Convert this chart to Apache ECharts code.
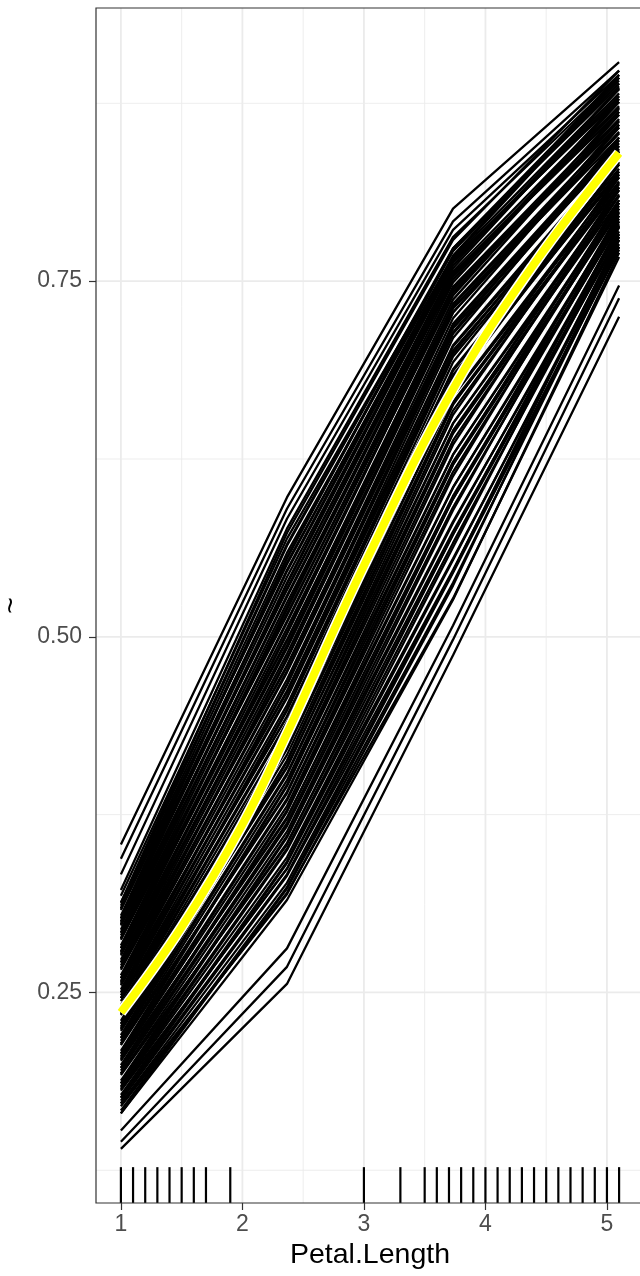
<!DOCTYPE html>
<html>
<head>
<meta charset="utf-8">
<script src="https://cdn.jsdelivr.net/npm/echarts@6/dist/echarts.min.js"></script>
<style>
html,body{margin:0;padding:0;background:#fff;}
#chart{width:640px;height:1276px;}
</style>
</head>
<body>
<div id="chart"></div>
<script>
// Grid points of Petal.Length where the ICE curves are evaluated
const gridX = [1, 2.366667, 3.733333, 5.1];
// ICE curve values at each grid point (one entry per curve)
const iceAt1 = [0.165,0.170,0.165,0.172,0.167,0.174,0.172,0.176,0.181,0.176,0.182,0.178,0.184,0.183,0.186,0.192,0.186,0.193,0.188,0.195,0.193,0.197,0.202,0.197,0.203,0.199,0.205,0.204,0.207,0.213,0.207,0.214,0.209,0.216,0.214,0.218,0.223,0.218,0.224,0.220,0.226,0.225,0.228,0.234,0.228,0.235,0.230,0.237,0.235,0.239,0.244,0.239,0.246,0.241,0.248,0.246,0.250,0.255,0.250,0.256,0.252,0.258,0.257,0.260,0.266,0.260,0.267,0.262,0.269,0.267,0.271,0.276,0.271,0.277,0.273,0.279,0.278,0.281,0.287,0.281,0.288,0.283,0.290,0.288,0.292,0.297,0.292,0.298,0.294,0.300,0.299,0.302,0.308,0.302,0.309,0.304,0.311,0.309,0.313,0.318,0.313,0.322,0.333,0.344,0.354,0.153,0.145,0.140];
const iceAt2 = [0.315,0.320,0.323,0.319,0.324,0.332,0.327,0.333,0.337,0.341,0.337,0.342,0.350,0.345,0.351,0.355,0.359,0.354,0.360,0.367,0.363,0.369,0.373,0.377,0.372,0.378,0.385,0.381,0.386,0.391,0.395,0.390,0.396,0.403,0.399,0.404,0.409,0.412,0.408,0.413,0.421,0.417,0.422,0.427,0.430,0.426,0.431,0.439,0.434,0.440,0.444,0.448,0.444,0.449,0.457,0.452,0.458,0.462,0.466,0.461,0.467,0.475,0.470,0.476,0.480,0.484,0.479,0.485,0.492,0.488,0.494,0.498,0.502,0.497,0.503,0.510,0.506,0.511,0.516,0.519,0.515,0.521,0.528,0.524,0.529,0.534,0.537,0.533,0.538,0.546,0.542,0.547,0.552,0.555,0.551,0.556,0.564,0.559,0.565,0.569,0.573,0.576,0.583,0.590,0.598,0.281,0.268,0.256];
const iceAt3 = [0.526,0.527,0.538,0.536,0.545,0.547,0.546,0.554,0.555,0.566,0.563,0.572,0.574,0.572,0.580,0.581,0.591,0.589,0.597,0.599,0.597,0.605,0.605,0.616,0.613,0.621,0.623,0.621,0.628,0.628,0.638,0.635,0.643,0.645,0.643,0.650,0.650,0.659,0.656,0.664,0.665,0.663,0.670,0.669,0.679,0.676,0.683,0.684,0.681,0.688,0.687,0.697,0.693,0.701,0.701,0.699,0.705,0.704,0.713,0.710,0.717,0.717,0.714,0.720,0.719,0.728,0.724,0.731,0.731,0.728,0.734,0.733,0.742,0.737,0.744,0.744,0.740,0.746,0.745,0.753,0.749,0.755,0.755,0.751,0.757,0.755,0.763,0.759,0.765,0.764,0.761,0.766,0.764,0.772,0.767,0.773,0.772,0.768,0.773,0.771,0.779,0.781,0.786,0.792,0.801,0.508,0.498,0.487];
const iceAt4 = [0.770,0.767,0.774,0.779,0.772,0.774,0.781,0.779,0.776,0.783,0.788,0.781,0.783,0.789,0.788,0.785,0.792,0.796,0.790,0.792,0.798,0.796,0.794,0.801,0.805,0.799,0.801,0.807,0.805,0.803,0.810,0.814,0.807,0.810,0.816,0.814,0.811,0.819,0.823,0.816,0.818,0.825,0.823,0.820,0.827,0.832,0.825,0.827,0.833,0.832,0.829,0.836,0.841,0.834,0.836,0.842,0.841,0.838,0.845,0.849,0.843,0.845,0.851,0.849,0.847,0.854,0.858,0.851,0.854,0.860,0.858,0.855,0.863,0.867,0.860,0.862,0.869,0.867,0.864,0.872,0.876,0.869,0.871,0.878,0.876,0.873,0.880,0.885,0.878,0.880,0.886,0.885,0.882,0.889,0.893,0.887,0.889,0.895,0.893,0.891,0.898,0.893,0.895,0.898,0.904,0.747,0.738,0.725];
// Average (yellow) curve
const pdpX = [1, 1.5, 2, 2.366667, 3, 3.733333, 4.4, 5.1];
const pdpY = [0.236, 0.296, 0.368, 0.432, 0.550, 0.674, 0.762, 0.840];
// Rug: observed Petal.Length values
const rugX = [1.0,1.1,1.2,1.3,1.4,1.5,1.6,1.7,1.9,3.0,3.3,3.5,3.6,3.7,3.8,3.9,4.0,4.1,4.2,4.3,4.4,4.5,4.6,4.7,4.8,4.9,5.0,5.1];
// Axis ticks and grid lines
const xTicks = [1, 2, 3, 4, 5];
const xMinorGrid = [1.5, 2.5, 3.5, 4.5];
const yTicks = [0.25, 0.50, 0.75];
const yMinorGrid = [0.125, 0.375, 0.625, 0.875];

const xMin = 0.795, xMax = 5.305, yMin = 0.102, yMax = 0.942;
const FONT = "'Liberation Sans', Arial, sans-serif";

const chart = echarts.init(document.getElementById('chart'), null, {renderer: 'canvas'});

const series = [];

// grid lines
const vGrid = xTicks.map(v => [v, yMin, 1]).concat(xMinorGrid.map(v => [v, yMin, 0]));
const hGrid = yTicks.map(v => [xMin, v, 1]).concat(yMinorGrid.map(v => [xMin, v, 0]));
series.push({
  type: 'custom', silent: true, z: 0, animation: false,
  data: vGrid,
  renderItem: function (params, api) {
    const x = api.value(0);
    const p1 = api.coord([x, yMin]);
    const p2 = api.coord([x, yMax]);
    return {type: 'line', shape: {x1: p1[0], y1: p1[1], x2: p2[0], y2: p2[1]},
      style: {stroke: '#EBEBEB', lineWidth: api.value(2) ? 1.8 : 0.9}};
  }
});
series.push({
  type: 'custom', silent: true, z: 0, animation: false,
  data: hGrid,
  renderItem: function (params, api) {
    const y = api.value(1);
    const p1 = api.coord([xMin, y]);
    const p2 = api.coord([xMax, y]);
    return {type: 'line', shape: {x1: p1[0], y1: p1[1], x2: p2[0], y2: p2[1]},
      style: {stroke: '#EBEBEB', lineWidth: api.value(2) ? 1.8 : 0.9}};
  }
});

// ICE curves
for (let i = 0; i < iceAt1.length; i++) {
  const vals = [iceAt1[i], iceAt2[i], iceAt3[i], iceAt4[i]];
  series.push({
    type: 'line', silent: true, z: 2, animation: false,
    symbol: 'none', smooth: false,
    lineStyle: {color: '#000000', width: 2.3},
    data: gridX.map((x, j) => [x, vals[j]])
  });
}

// yellow average curve with white halo
const pdpData = pdpX.map((x, j) => [x, pdpY[j]]);
series.push({
  type: 'line', silent: true, z: 3, animation: false, symbol: 'none', smooth: 0.4,
  lineStyle: {color: '#FFFFFF', width: 11, cap: 'butt'},
  data: pdpData
});
series.push({
  type: 'line', silent: true, z: 4, animation: false, symbol: 'none', smooth: 0.4,
  lineStyle: {color: '#FFFF00', width: 8, cap: 'butt'},
  data: pdpData
});

// rug
const rugLen = 0.03 * (yMax - yMin);
series.push({
  type: 'custom', silent: true, z: 5, animation: false,
  data: rugX.map(x => [x, yMin]),
  renderItem: function (params, api) {
    const x = api.value(0);
    const p1 = api.coord([x, yMin]);
    const p2 = api.coord([x, yMin + rugLen]);
    return {type: 'line', shape: {x1: p1[0], y1: p1[1], x2: p2[0], y2: p2[1]},
      style: {stroke: '#000000', lineWidth: 2.2}};
  }
});

chart.setOption({
  backgroundColor: '#FFFFFF',
  animation: false,
  grid: {left: 96, right: -4, top: 8, bottom: 73, show: true, outerBoundsMode: 'none', containLabel: false,
    borderColor: '#333333', borderWidth: 1.2, backgroundColor: 'transparent', z: 10},
  xAxis: {
    type: 'value', min: xMin, max: xMax,
    name: 'Petal.Length', nameLocation: 'middle', nameGap: 36,
    nameTextStyle: {fontFamily: FONT, fontSize: 28.5, color: '#000000'},
    axisLine: {show: false},
    axisTick: {show: true, customValues: xTicks, length: 7, lineStyle: {color: '#333333', width: 1.2}},
    axisLabel: {customValues: xTicks, margin: 10, fontFamily: FONT, fontSize: 23, color: '#4D4D4D',
      formatter: v => String(v)},
    splitLine: {show: false}
  },
  yAxis: {
    type: 'value', min: yMin, max: yMax,
    name: '~', nameLocation: 'middle', nameGap: 68, nameRotate: 90,
    nameTextStyle: {fontFamily: FONT, fontSize: 28.5, color: '#000000'},
    axisLine: {show: false},
    axisTick: {show: true, customValues: yTicks, length: 7, lineStyle: {color: '#333333', width: 1.2}},
    axisLabel: {customValues: yTicks, margin: 14, fontFamily: FONT, fontSize: 23, color: '#4D4D4D',
      formatter: v => v.toFixed(2)},
    splitLine: {show: false}
  },
  series: series
});
</script>
</body>
</html>
